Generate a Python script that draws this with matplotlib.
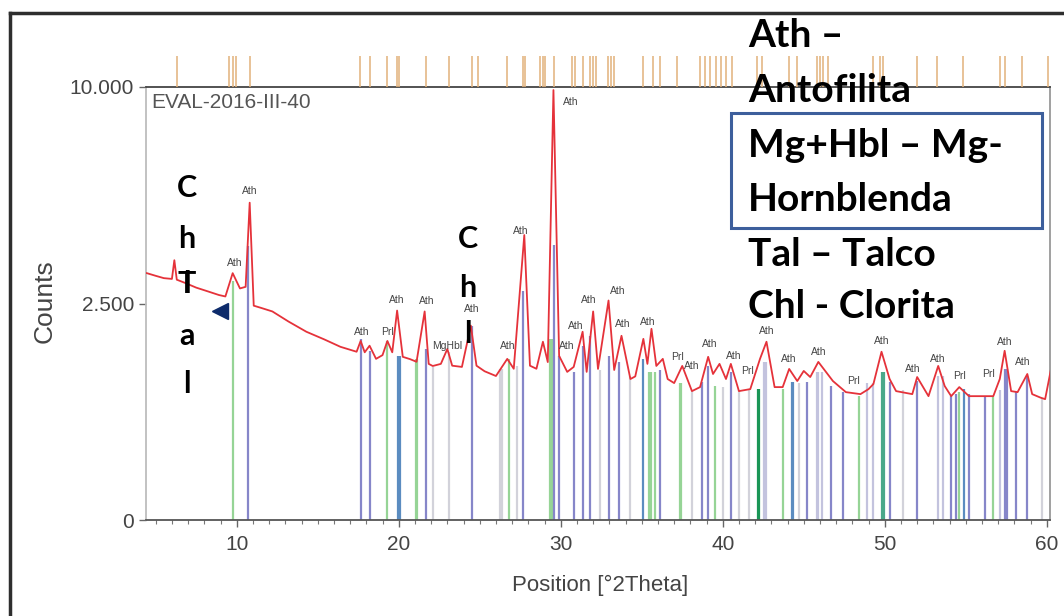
import numpy as np
import matplotlib.pyplot as plt
from matplotlib.lines import Line2D
from matplotlib.patches import Rectangle
from matplotlib.ticker import MultipleLocator

scan_pos = [4.45, 5.0, 5.5, 6.0, 6.15, 6.3, 6.8, 7.5, 8.2, 8.9, 9.3, 9.75, 10.2, 10.55,
            10.8, 11.05, 11.5, 12.2, 13.2, 14.3, 15.4, 16.4, 17.4, 17.65, 17.9, 18.2,
            18.6, 19.0, 19.3, 19.6, 19.9, 20.25, 20.7, 21.1, 21.6, 21.85, 22.1, 22.6,
            23.0, 23.3, 23.9, 24.45, 24.8, 25.3, 26.0, 26.7, 27.1, 27.75, 28.1, 28.5,
            28.9, 29.2, 29.55, 29.9, 30.4, 30.8, 31.35, 31.6, 32.0, 32.3, 32.95, 33.3,
            33.75, 34.3, 34.6, 35.1, 35.35, 35.6, 35.9, 36.3, 36.6, 37.0, 37.5, 38.1,
            38.6, 39.1, 39.4, 39.8, 40.2, 40.5, 41.0, 41.7, 42.3, 42.7, 43.2, 43.7,
            44.1, 44.6, 45.0, 45.4, 45.9, 46.8, 47.6, 48.5, 49.0, 49.3, 49.8, 50.3,
            50.7, 51.7, 52.0, 52.7, 53.3, 53.7, 54.1, 54.6, 55.2, 55.9, 56.7, 57.1,
            57.4, 57.8, 58.2, 58.8, 59.1, 59.6, 59.9, 60.3]
scan_cnt = [3250, 3180, 3120, 3100, 3600, 3080, 3000, 2880, 2790, 2700, 2665, 3250, 2860, 2900,
            5370, 2450, 2400, 2320, 2100, 1890, 1740, 1600, 1510, 1710, 1500, 1620,
            1385, 1450, 1710, 1500, 2340, 1420, 1380, 1335, 2320, 1300, 1265, 1300,
            1560, 1270, 1250, 2015, 1270, 1180, 1106, 1385, 1220, 4330, 1270, 1220,
            1695, 1330, 9860, 1437, 1170, 1250, 1890, 1170, 2320, 1217, 2570, 1200,
            1810, 1060, 1100, 1750, 1300, 1950, 1266, 1385, 1060, 1000, 1266, 886,
            942, 1420, 1137, 1300, 1060, 1300, 886, 914, 1385, 1695, 942, 942,
            1217, 1030, 1185, 1090, 1333, 1030, 872, 845, 914, 986, 1510, 1060,
            886, 845, 1090, 818, 1266, 957, 818, 942, 818, 818, 818, 1060,
            1527, 886, 872, 1137, 845, 800, 779, 1266]

# reference sticks: position, height, colour code
stick_pos = [9.75, 10.7, 17.65, 18.2, 19.25, 19.95, 20.05, 21.05, 21.15, 21.7, 22.1, 23.1,
             24.5, 26.25, 26.35, 26.8, 27.3, 27.7, 29.35, 29.45, 29.6, 29.9, 30.8, 31.4,
             31.8, 32.4, 33.0, 33.6, 34.3, 35.1, 35.45, 35.55, 35.8, 36.1, 37.35, 37.45,
             38.1, 38.7, 39.1, 39.5, 40.0, 40.5, 41.0, 41.6, 42.15, 42.25, 42.55, 42.65,
             43.7, 44.25, 44.35, 44.7, 45.2, 45.8, 45.9, 46.1, 46.7, 47.4, 48.4, 48.9,
             49.3, 49.85, 49.95, 50.3, 51.1, 52.0, 53.3, 53.6, 54.1, 54.4, 54.6, 54.9,
             55.2, 56.2, 56.7, 57.1, 57.45, 57.55, 58.1, 58.8, 59.7]
stick_cnt = [3040, 4000, 1750, 1530, 1713, 1437, 1437, 1385, 1385, 1560, 1250, 1510,
             2015, 1217, 1217, 1385, 1266, 2790, 1750, 1750, 4030, 1437, 1169, 1620,
             1811, 1200, 1437, 1333, 1100, 1385, 1169, 1169, 1169, 1200, 1000, 1000,
             900, 1015, 1266, 957, 950, 1169, 900, 900, 914, 914, 1333, 1333,
             914, 1015, 1015, 1000, 1015, 1169, 1169, 1169, 957, 872, 818, 1000,
             1000, 1169, 1169, 1015, 900, 1030, 1106, 1106, 818, 845, 872, 914,
             850, 818, 805, 900, 1217, 1217, 872, 1106, 800]
stick_kind = ['G', 'P', 'P', 'P', 'G', 'S', 'S', 'G', 'G', 'P', 'R', 'R',
              'P', 'R', 'R', 'G', 'R', 'P', 'G', 'G', 'P', 'P', 'P', 'P',
              'P', 'R', 'P', 'P', 'R', 'S', 'G', 'G', 'G', 'P', 'G', 'G',
              'R', 'P', 'P', 'G', 'R', 'P', 'R', 'R', 'D', 'D', 'L', 'L',
              'G', 'S', 'S', 'R', 'P', 'L', 'L', 'L', 'P', 'P', 'G', 'L',
              'L', 'T', 'T', 'P', 'R', 'P', 'L', 'L', 'P', 'P', 'G', 'S',
              'P', 'P', 'G', 'L', 'P', 'P', 'P', 'P', 'R']

# reference pattern strip above the plot
ref_pos = [6.3, 9.5, 9.75, 9.95, 10.8, 17.6, 18.2, 19.3, 19.9, 20.0, 21.7, 23.1, 24.5,
           24.9, 26.7, 27.7, 27.8, 28.7, 28.9, 29.0, 29.6, 30.7, 30.9, 31.4, 31.8, 32.0,
           32.2, 32.9, 33.1, 33.3, 35.1, 35.7, 36.1, 37.2, 38.6, 38.9, 39.2, 39.6, 39.9,
           40.2, 40.6, 42.1, 42.4, 44.1, 44.6, 45.8, 46.0, 46.2, 46.5, 49.3, 49.7, 49.9,
           52.0, 53.2, 54.8, 57.1, 57.4, 58.5, 60.1]

# peak labels
lbl_text = ['Ath', 'Ath', 'Ath', 'Prl', 'Ath', 'Ath', 'MgHbl', 'Ath', 'Ath', 'Ath',
            'Ath', 'Ath', 'Ath', 'Ath', 'Ath', 'Ath', 'Ath', 'Prl', 'Ath', 'Ath',
            'Ath', 'Prl', 'Ath', 'Ath', 'Ath', 'Prl', 'Ath', 'Ath', 'Ath', 'Prl',
            'Prl', 'Ath', 'Ath']
lbl_pos = [9.9, 10.8, 17.7, 19.3, 19.9, 21.7, 23.0, 24.5, 26.7, 27.5,
           30.6, 30.4, 30.9, 31.7, 33.5, 33.8, 35.4, 37.2, 38.1, 39.2,
           40.7, 41.5, 42.7, 44.1, 45.9, 48.1, 49.8, 51.7, 53.3, 54.6,
           56.4, 57.4, 58.5]
lbl_cnt = [3517, 5783, 1891, 1891, 2570, 2547, 1619, 2385, 1619, 4455,
           9314, 1619, 2015, 2570, 2787, 2056, 2099, 1419, 1266, 1656,
           1437, 1185, 1911, 1385, 1508, 1030, 1714, 1217, 1385, 1106,
           1137, 1694, 1333]

legend_lines = ['Ath –', 'Antofilita', 'Mg+Hbl – Mg-', 'Hornblenda', 'Tal – Talco', 'Chl - Clorita']

kind_col = {'P': '#8686c9', 'L': '#c3c3de', 'G': '#96d496', 'D': '#1a9656',
            'S': '#5b8cc0', 'R': '#d2d2da', 'T': '#4aa88a'}

W, H = 1064, 616


def fx(px):
    return px / W


def fy(py):
    return 1 - py / H


fig = plt.figure(figsize=(W / 100, H / 100), dpi=100)
ax = fig.add_axes([fx(146), fy(520), fx(1050) - fx(146), fy(87) - fy(520)])
ax.set_yscale('function', functions=(lambda y: np.sqrt(np.clip(y, 0, None)), np.square))
ax.set_xlim(4.4, 60.2)
ax.set_ylim(0, 10000)

ax.vlines(stick_pos, 0, stick_cnt, colors=[kind_col[k] for k in stick_kind],
          lw=1.6, zorder=2)
ax.plot(scan_pos, scan_cnt, color='#e5323a', lw=1.3, zorder=3)
ax.plot([8.95], [2340], marker='<', ms=11, color='#0d2b6b', zorder=5)

for t, p, c in zip(lbl_text, lbl_pos, lbl_cnt):
    ax.text(p, c, t, fontsize=7.5, color='#444', ha='center', va='center', zorder=4,
            family='Liberation Sans')

ax.set_xticks([10, 20, 30, 40, 50, 60])
ax.xaxis.set_minor_locator(MultipleLocator(1))
ax.set_yticks([0, 2500, 10000])
ax.set_yticklabels(['0', '2.500', '10.000'])
ax.tick_params(which='major', direction='out', length=5, width=1, colors='#666',
               labelcolor='#444', labelsize=15)
ax.tick_params(which='minor', direction='out', length=3, width=0.8, colors='#777')
ax.tick_params(axis='x', pad=6)
for lab in ax.get_xticklabels() + ax.get_yticklabels():
    lab.set_family('Liberation Sans')
ax.spines['left'].set_color('#bdbdbd')
ax.spines['bottom'].set_color('#555')
ax.spines['top'].set_color('#444')
ax.spines['right'].set_color('#999')
for s in ax.spines.values():
    s.set_linewidth(1.3)

# reference strip
axs = fig.add_axes([fx(146), fy(87), fx(1050) - fx(146), fy(56) - fy(87)], sharex=ax)
axs.vlines(ref_pos, 0, 1, color='#e2b27a', lw=1.1)
axs.set_ylim(0, 1)
axs.axis('off')

fig.text(fx(151), fy(103), 'EVAL-2016-III-40', fontsize=15, color='#555',
         va='center', family='Liberation Sans')
fig.text(fx(600), fy(585), 'Position [°2Theta]', fontsize=16, color='#444',
         ha='center', va='center', family='Liberation Sans')
fig.text(fx(45), fy(301), 'Counts', fontsize=19, color='#444', rotation=90,
         ha='center', va='center', family='Liberation Sans')

# hand-written annotations
for letter, base in zip(['C', 'h', 'l'], [197, 248, 293]):
    fig.text(fx(187), fy(base), letter, fontsize=22, fontweight='bold', family='Lato',
             ha='center', va='baseline')
for letter, base in zip(['T', 'a', 'l'], [293, 345, 393]):
    fig.text(fx(187), fy(base), letter, fontsize=22, fontweight='bold', family='Lato',
             ha='center', va='baseline')
for letter, base in zip(['C', 'h', 'l'], [248, 297, 343]):
    fig.text(fx(468), fy(base), letter, fontsize=22, fontweight='bold', family='Lato',
             ha='center', va='baseline')

for line, base in zip(legend_lines, [47, 102, 157, 211, 266, 318]):
    fig.text(fx(748), fy(base), line, fontsize=28, fontweight='bold', family='Lato',
             va='baseline', zorder=10)
fig.add_artist(Rectangle((fx(731), fy(228)), fx(1042) - fx(731), fy(113) - fy(228),
                         transform=fig.transFigure, fill=False, ec='#3d5f9c', lw=2.2))

# screenshot frame
fig.add_artist(Line2D([fx(10), 1], [fy(13), fy(13)], transform=fig.transFigure,
                      color='#2e2e2e', lw=2.5))
fig.add_artist(Line2D([fx(10), fx(10)], [fy(13), 0], transform=fig.transFigure,
                      color='#2e2e2e', lw=2.5))

fig.savefig('out.png', dpi=100)
